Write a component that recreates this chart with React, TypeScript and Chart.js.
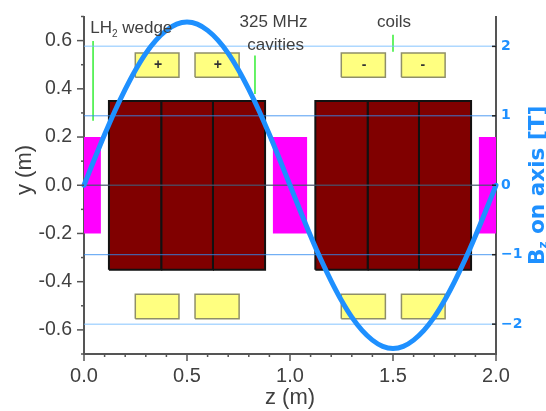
import React, { useEffect, useRef } from "react";
import { Chart, registerables } from "chart.js";

Chart.register(...registerables);

// Field map rectangles: [zStart, zEnd, yBottom, yTop]
const wedges = [[0, 0.082, -0.2, 0.2], [0.917, 1.083, -0.2, 0.2], [1.917, 2, -0.2, 0.2]];
const cavities = [
  [0.121, 0.375, -0.35, 0.349], [0.375, 0.626, -0.35, 0.349], [0.626, 0.879, -0.35, 0.349],
  [1.123, 1.377, -0.35, 0.349], [1.377, 1.626, -0.35, 0.349], [1.626, 1.879, -0.35, 0.349],
];
const coils = [
  [0.249, 0.461, 0.448, 0.549], [0.539, 0.753, 0.448, 0.549], [1.249, 1.463, 0.448, 0.549], [1.541, 1.753, 0.448, 0.549],
  [0.249, 0.461, -0.554, -0.452], [0.539, 0.753, -0.554, -0.452], [1.249, 1.463, -0.554, -0.452], [1.541, 1.753, -0.554, -0.452],
];
// Leader lines: [z, yStart, yEnd]
const leaders = [[0.044, 0.598, 0.268], [0.83, 0.538, 0.379], [1.5, 0.624, 0.554]];
// On-axis field
const fieldZ = [0, 0.05, 0.1, 0.15, 0.2, 0.25, 0.3, 0.35, 0.4, 0.45, 0.5, 0.55, 0.6, 0.65, 0.7, 0.75, 0.8, 0.85, 0.9, 0.95, 1, 1.05, 1.1, 1.15, 1.2, 1.25, 1.3, 1.35, 1.4, 1.45, 1.5, 1.55, 1.6, 1.65, 1.7, 1.75, 1.8, 1.85, 1.9, 1.95, 2];
const fieldB = [0, 0.37, 0.73, 1.07, 1.38, 1.66, 1.9, 2.09, 2.23, 2.32, 2.35, 2.32, 2.23, 2.09, 1.9, 1.66, 1.38, 1.07, 0.73, 0.37, 0, -0.37, -0.73, -1.07, -1.38, -1.66, -1.9, -2.09, -2.23, -2.32, -2.35, -2.32, -2.23, -2.09, -1.9, -1.66, -1.38, -1.07, -0.73, -0.37, 0];
const fieldGrid = [2, 1, -1, -2];
// Labels placed in data coordinates: [text, z, y]
const labels: [string, number, number][] = [
  ["325 MHz", 0.92, 0.675],
  ["cavities", 0.93, 0.58],
  ["coils", 1.505, 0.675],
];
const signs: [string, number, number][] = [["+", 0.36, 0.497], ["+", 0.65, 0.497], ["-", 1.36, 0.497], ["-", 1.645, 0.497]];

const SANS = "'Liberation Sans', Arial, sans-serif";
const INK = "#404040";
const BLUE = "#1e90ff";

const rect = (r: number[]) => [
  { x: r[0], y: r[2] }, { x: r[1], y: r[2] }, { x: r[1], y: r[3] }, { x: r[0], y: r[3] }, { x: r[0], y: r[2] },
];

const textPlugin = {
  id: "marks",
  afterDraw(chart: any) {
    const { ctx, scales, chartArea } = chart;
    const { x, y } = scales;
    ctx.save();
    // outward tick marks
    ctx.strokeStyle = "#555555";
    ctx.lineWidth = 1.5;
    x.ticks.forEach((t: any) => {
      const major = Math.round(t.value * 10) % 5 === 0;
      const px = x.getPixelForValue(t.value);
      ctx.beginPath();
      ctx.moveTo(px, chartArea.bottom);
      ctx.lineTo(px, chartArea.bottom + (major ? 7 : 3));
      ctx.stroke();
    });
    y.ticks.forEach((t: any) => {
      const major = Math.round(t.value * 10) % 2 === 0;
      const py = y.getPixelForValue(t.value);
      ctx.beginPath();
      ctx.moveTo(chartArea.left, py);
      ctx.lineTo(chartArea.left - (major ? 7 : 3), py);
      ctx.stroke();
    });
    ctx.strokeStyle = "#222222";
    scales.yR.ticks.forEach((t: any) => {
      const py = scales.yR.getPixelForValue(t.value);
      ctx.beginPath();
      ctx.moveTo(chartArea.right - 4, py);
      ctx.lineTo(chartArea.right, py);
      ctx.stroke();
    });

    ctx.fillStyle = INK;
    ctx.textBaseline = "middle";
    ctx.textAlign = "center";
    ctx.font = `17px ${SANS}`;
    labels.forEach(([s, z, v]) => ctx.fillText(s, x.getPixelForValue(z), y.getPixelForValue(v)));
    ctx.font = `bold 14px ${SANS}`;
    ctx.fillStyle = "#333333";
    signs.forEach(([s, z, v]) => ctx.fillText(s, x.getPixelForValue(z), y.getPixelForValue(v)));

    // LH2 wedge with subscript
    ctx.fillStyle = INK;
    ctx.textAlign = "left";
    const lx = x.getPixelForValue(0.03);
    const ly = y.getPixelForValue(0.65);
    ctx.font = `17px ${SANS}`;
    ctx.fillText("LH", lx, ly);
    let adv = ctx.measureText("LH").width;
    ctx.font = `10px ${SANS}`;
    ctx.fillText("2", lx + adv, ly + 6);
    adv += ctx.measureText("2").width;
    ctx.font = `17px ${SANS}`;
    ctx.fillText(" wedge", lx + adv, ly);

    // left axis title
    ctx.save();
    ctx.translate(25, 170);
    ctx.rotate(-Math.PI / 2);
    ctx.textAlign = "center";
    ctx.font = `22px ${SANS}`;
    ctx.fillText("y (m)", 0, 0);
    ctx.restore();

    // right axis title with subscript
    ctx.save();
    ctx.translate(538, 265);
    ctx.rotate(-Math.PI / 2);
    ctx.textAlign = "left";
    ctx.fillStyle = BLUE;
    const F = "'DejaVu Sans', sans-serif";
    ctx.font = `bold 21.6px ${F}`;
    ctx.fillText("B", 0, 0);
    let a = ctx.measureText("B").width;
    ctx.font = `bold 12px ${F}`;
    ctx.fillText("z", a, 6);
    a += ctx.measureText("z").width;
    ctx.font = `bold 21.6px ${F}`;
    ctx.fillText(" on axis [T]", a, 0);
    ctx.restore();
    ctx.restore();
  },
};

export default function App() {
  const ref = useRef<HTMLCanvasElement>(null);
  useEffect(() => {
    const line = (data: any[], extra: any, yAxisID = "y") => ({
      type: "line", data, yAxisID, pointRadius: 0, tension: 0, borderJoinStyle: "miter", ...extra,
    });
    const datasets: any[] = [];
    // first listed is drawn on top
    datasets.push(line(fieldZ.map((z, i) => ({ x: z, y: fieldB[i] })), {
      label: "Bz", borderColor: BLUE, borderWidth: 5, tension: 0.4, cubicInterpolationMode: "monotone",
      borderCapStyle: "round", clip: false,
    }, "yR"));
    datasets.push(line([{ x: 0, y: 0 }, { x: 2, y: 0 }], { label: "zero", borderColor: "rgba(70,85,110,0.8)", borderWidth: 1.5 }));
    fieldGrid.forEach((v) => {
      const strong = Math.abs(v) === 1;
      datasets.push(line([{ x: 0, y: v }, { x: 2, y: v }], {
        label: `B=${v}`, borderColor: strong ? "rgba(50,140,240,0.85)" : "rgba(120,190,255,0.6)", borderWidth: strong ? 1 : 1.5,
      }, "yR"));
    });
    leaders.forEach((l, i) => datasets.push(line([{ x: l[0], y: l[1] }, { x: l[0], y: l[2] }], {
      label: `leader${i}`, borderColor: "#33ee33", borderWidth: 1.5,
    })));
    coils.forEach((r, i) => datasets.push(line(rect(r), {
      label: `coil${i}`, borderColor: "#8f8f68", backgroundColor: "#ffff80", borderWidth: 1.5, fill: "shape",
    })));
    cavities.forEach((r, i) => datasets.push(line(rect(r), {
      label: `cavity${i}`, borderColor: "#111111", backgroundColor: "#800000", borderWidth: 2, fill: "shape",
    })));
    wedges.forEach((r, i) => datasets.push(line(rect(r), {
      label: `wedge${i}`, borderColor: "#ff00ff", backgroundColor: "#ff00ff", borderWidth: 0, fill: "shape",
    })));

    const chart = new Chart(ref.current as HTMLCanvasElement, {
      type: "line",
      data: { datasets },
      plugins: [textPlugin],
      options: {
        responsive: false,
        animation: false,
        devicePixelRatio: 1,
        layout: { padding: { top: 16.5 } },
        plugins: { legend: { display: false }, tooltip: { enabled: false } },
        scales: {
          x: {
            type: "linear", min: 0, max: 2,
            afterFit: (s: any) => { s.height = 57; },
            grid: { drawOnChartArea: false, drawTicks: false },
            border: { color: "#555555", width: 2 },
            ticks: {
              stepSize: 0.1, autoSkip: false, maxRotation: 0, padding: 10, color: INK,
              font: { family: SANS, size: 20 },
              callback: (v: any) => (Math.round(v * 10) % 5 === 0 ? Number(v).toFixed(1) : ""),
            },
            title: { display: true, text: "z (m)", color: INK, font: { family: SANS, size: 22 }, padding: { top: 0, bottom: 0 } },
          },
          y: {
            type: "linear", position: "left", min: -0.7, max: 0.7,
            afterFit: (s: any) => { s.width = 84; s.paddingTop = 0; s.paddingBottom = 0; },
            grid: { drawOnChartArea: false, drawTicks: false },
            border: { color: "#555555", width: 2 },
            ticks: {
              stepSize: 0.1, autoSkip: false, padding: 12, color: INK,
              font: { family: SANS, size: 19.5 },
              callback: (v: any) => (Math.round(v * 10) % 2 === 0 ? Number(v).toFixed(1) : ""),
            },
          },
          yR: {
            type: "linear", position: "right", min: -2.43, max: 2.43,
            afterFit: (s: any) => { s.width = 50; s.paddingTop = 0; s.paddingBottom = 0; },
            grid: { drawOnChartArea: false, drawTicks: false },
            border: { color: "#555555", width: 2 },
            ticks: {
              stepSize: 1, includeBounds: false, padding: 5, color: BLUE,
              font: { family: "'DejaVu Sans', sans-serif", size: 14, weight: "bold" },
              callback: (v: any) => (v < 0 ? `\u2212${Math.abs(v)}` : `${v}`),
            },
          },
        },
      },
    } as any);
    return () => chart.destroy();
  }, []);
  return <canvas ref={ref} width={546} height={411} style={{ position: "fixed", left: 0, top: 0, display: "block" }} />;
}
